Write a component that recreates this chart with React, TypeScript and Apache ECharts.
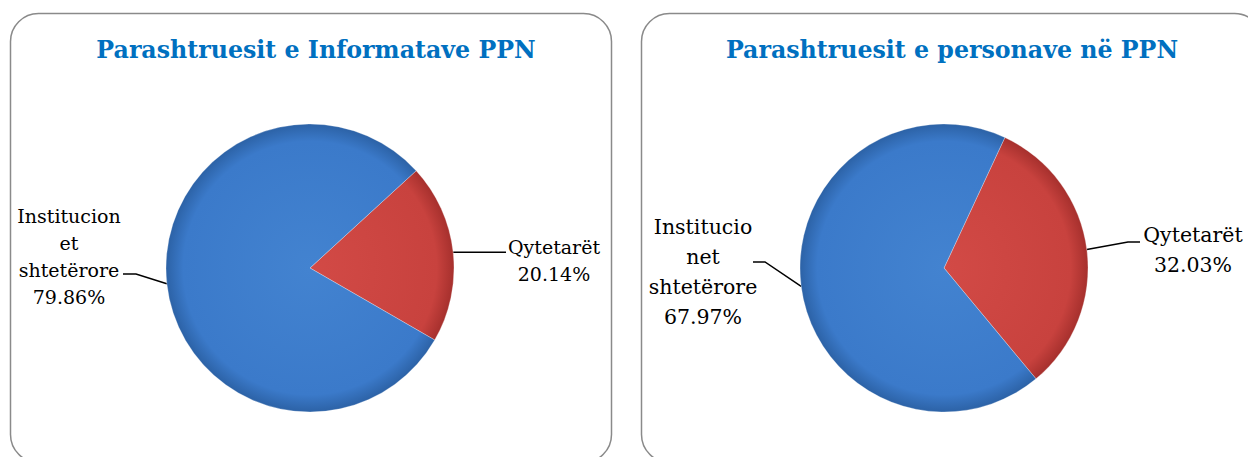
import React, { useEffect, useRef } from "react";
import * as echarts from "echarts";

const categories = ["Qytetarët", "Institucionet shtetërore"];
const leftTitle = "Parashtruesit e Informatave PPN";
const rightTitle = "Parashtruesit e personave në PPN";
const leftValues = [20.14, 79.86];
const rightValues = [32.03, 67.97];
const leftLabelNames = ["Qytetarët", "Institucion\net\nshtetërore"];
const rightLabelNames = ["Qytetarët", "Institucio\nnet\nshtetërore"];

const FONT = "'DejaVu Serif', serif";

function grad(cx: number, cy: number, r: number, c0: string, c1: string, c2: string) {
  return {
    type: "radial",
    x: cx,
    y: cy,
    r: r,
    global: true,
    colorStops: [
      { offset: 0, color: c0 },
      { offset: 0.88, color: c1 },
      { offset: 1, color: c2 },
    ],
  };
}

export default function App() {
  const ref = useRef<HTMLDivElement>(null);
  useEffect(() => {
    if (!ref.current) return;
    const chart = echarts.init(ref.current, null, { renderer: "svg" });

    const L = { cx: 310, cy: 268, r: 144, start: 42.5, fs: 19, lh: 27 };
    const R = { cx: 944, cy: 268, r: 144, start: 65, fs: 20.5, lh: 30 };

    const mkData = (values: number[], names: string[], P: any) =>
      values.map((v, i) => ({
        name: categories[i],
        value: v,
        labelText: names[i] + "\n" + v.toFixed(2) + "%",
        itemStyle: {
          color:
            i === 0
              ? grad(P.cx, P.cy, P.r, "#d24a46", "#c8423e", "#a6302d")
              : grad(P.cx, P.cy, P.r, "#4383d0", "#3b7aca", "#2c62a6"),
        },
      }));

    const leftLayout = (p: any) => {
      const s = p.labelLinePoints ? p.labelLinePoints[0] : [0, 0];
      if (p.dataIndex === 0) {
        return {
          x: 554,
          y: 260,
          align: "center",
          verticalAlign: "middle",
          labelLinePoints: [s, [506, s[1]], [506, s[1]]],
        };
      }
      return {
        x: 69,
        y: 256,
        align: "center",
        verticalAlign: "middle",
        labelLinePoints: [s, [136, 274], [123, 274]],
      };
    };
    const rightLayout = (p: any) => {
      const s = p.labelLinePoints ? p.labelLinePoints[0] : [0, 0];
      if (p.dataIndex === 0) {
        return {
          x: 1193,
          y: 250,
          align: "center",
          verticalAlign: "middle",
          labelLinePoints: [s, [1128, 242], [1140, 242]],
        };
      }
      return {
        x: 703,
        y: 272,
        align: "center",
        verticalAlign: "middle",
        labelLinePoints: [s, [765, 262], [753, 262]],
      };
    };

    const mkSeries = (values: number[], names: string[], P: any, layout: any) => ({
      type: "pie",
      center: [P.cx, P.cy],
      radius: P.r,
      startAngle: P.start,
      clockwise: true,
      data: mkData(values, names, P),
      itemStyle: { borderColor: "rgba(255,255,255,0.35)", borderWidth: 0.8 },
      label: {
        show: true,
        formatter: (d: any) => d.data.labelText,
        fontFamily: FONT,
        fontSize: P.fs,
        lineHeight: P.lh,
        color: "#000",
        align: "center",
      },
      labelLine: { show: true, lineStyle: { color: "#000", width: 1.5 } },
      labelLayout: layout,
      emphasis: { disabled: true },
    });

    const titleStyle = { fontFamily: FONT, fontWeight: "bold", fontSize: 23.7, color: "#0070C0" };

    chart.setOption({
      animation: false,
      backgroundColor: "#fff",
      title: [
        { text: leftTitle, left: 311, top: 33, textAlign: "center", textStyle: titleStyle },
        { text: rightTitle, left: 947, top: 33, textAlign: "center", textStyle: titleStyle },
      ],
      graphic: [
        {
          type: "rect",
          shape: { x: 10.5, y: 13.5, width: 601, height: 449, r: 28 },
          style: { fill: "none", stroke: "#8a8a8a", lineWidth: 1.5 },
          silent: true,
        },
        {
          type: "rect",
          shape: { x: 641.5, y: 13.5, width: 621, height: 449, r: 28 },
          style: { fill: "none", stroke: "#8a8a8a", lineWidth: 1.5 },
          silent: true,
        },
      ],
      series: [
        mkSeries(leftValues, leftLabelNames, L, leftLayout),
        mkSeries(rightValues, rightLabelNames, R, rightLayout),
      ],
    });
    return () => chart.dispose();
  }, []);
  return (
    <div
      ref={ref}
      style={{ position: "fixed", left: 0, top: 0, width: 1248, height: 457 }}
    />
  );
}
